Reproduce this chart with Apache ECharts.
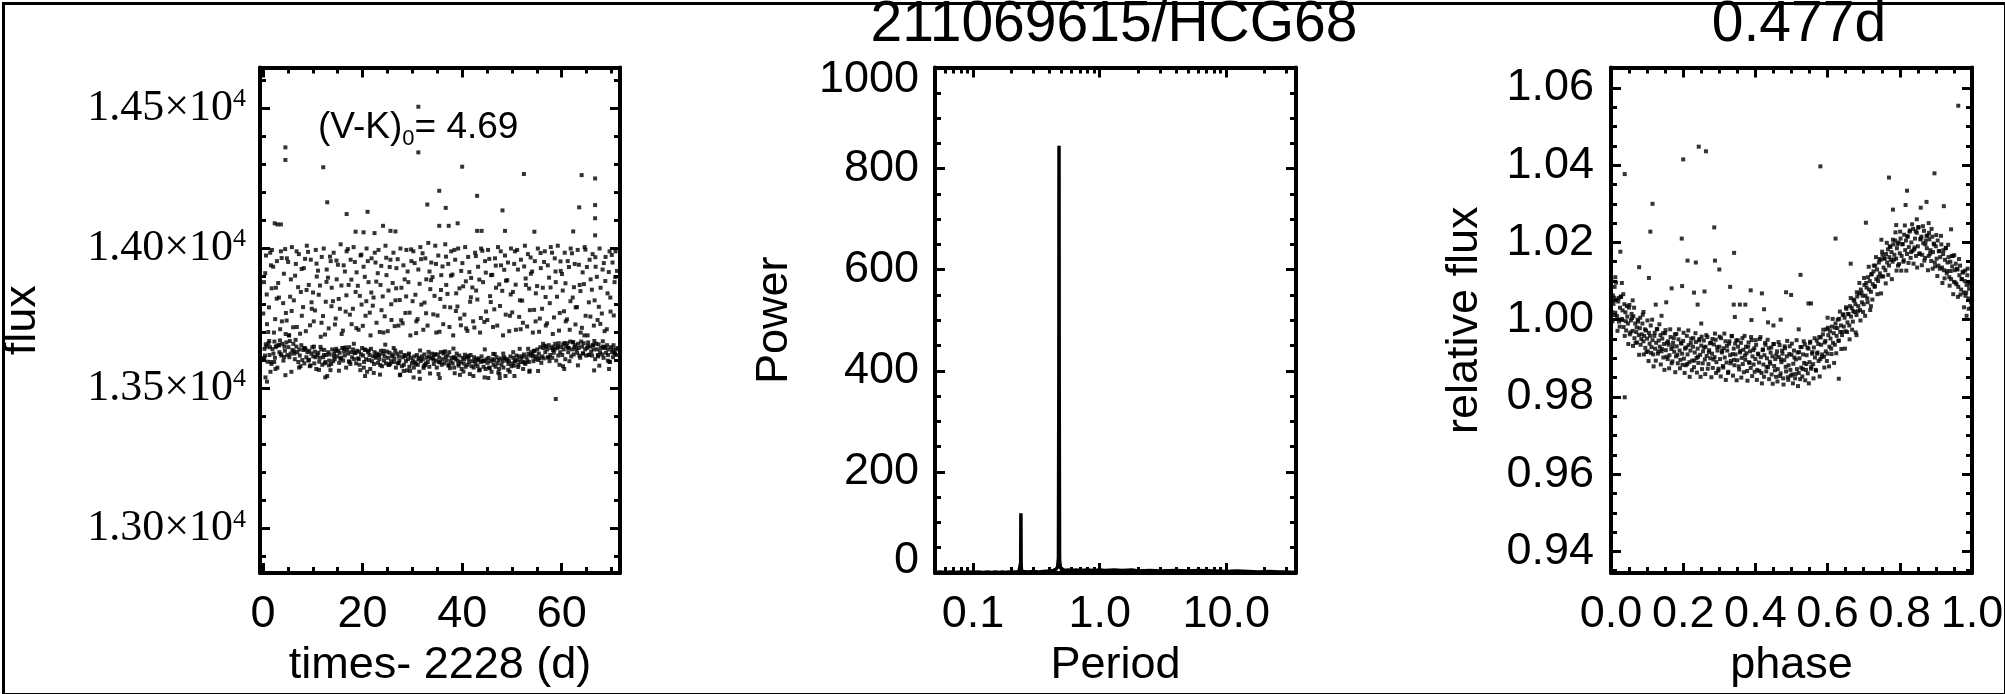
<!DOCTYPE html>
<html><head><meta charset="utf-8">
<script src="https://cdn.jsdelivr.net/npm/echarts@6/dist/echarts.min.js"></script>
<style>html,body{margin:0;padding:0;background:#fff}#c{width:2005px;height:694px}</style>
</head><body><div id="c"></div><script>
// ---------- DATA ----------
const titleMain = '211069615/HCG68';
const titlePeriod = '0.477d';
const colourIndex = {label: '(V-K)', sub: '0', value: '= 4.69'};

// light curve: [time - 2228 (d), flux]
const lcPoints = [
[0.1,13605],[0.2,13880],[0.3,13642],[0.4,13618],[0.6,13975],[0.7,13650],[0.8,13730],[0.9,13596],
[1.1,13662],[1.2,13790],[1.3,13620],[1.4,13648],[1.6,13940],[1.7,13588],[1.8,13995],[1.9,13641],
[2.1,13625],[2.2,13700],[2.3,13668],[2.4,13610],[2.6,13860],[2.7,13652],[2.8,13955],[2.9,13575],
[3.1,13655],[3.2,13825],[3.3,13630],[3.4,13672],[3.6,13990],[3.7,13618],[3.8,13740],[3.9,13660],
[4.1,13600],[4.2,13910],[4.3,13650],[4.4,13635],[4.6,13770],[4.7,13665],[4.8,13965],[4.9,13620],
[5.1,13648],[5.2,13690],[5.3,13612],[5.4,13670],[5.6,13890],[5.7,13560],[5.8,14005],[5.9,13638],
[6.1,13660],[6.2,13815],[6.3,13625],[6.4,13605],[6.6,13945],[6.7,13650],[6.8,13720],[6.9,13630],
[7.1,13595],[7.2,13980],[7.3,13640],[7.4,13618],[7.6,13845],[7.7,13655],[7.8,13760],[7.9,13602],
[8.1,13638],[8.2,13930],[8.3,13590],[8.4,13645],[8.6,13705],[8.7,13612],[8.8,14010],[8.9,13630],
[9.1,13600],[9.2,13870],[9.3,13635],[9.4,13580],[9.6,13960],[9.7,13625],[9.8,13785],[9.9,13648],
[10.1,13615],[10.2,13740],[10.3,13590],[10.4,13632],[10.6,13995],[10.7,13570],[10.8,13900],[10.9,13620],
[11.1,13628],[11.2,13835],[11.3,13596],[11.4,13610],[11.6,13685],[11.7,13640],[11.8,13970],[11.9,13585],
[12.1,13612],[12.2,14000],[12.3,13638],[12.4,13590],[12.6,13810],[12.7,13620],[12.8,13925],[12.9,13545],
[13.1,13630],[13.2,13715],[13.3,13600],[13.4,13622],[13.6,13955],[13.7,13588],[13.8,13860],[13.9,13640],
[14.1,13598],[14.2,13985],[14.3,13625],[14.4,13605],[14.6,13750],[14.7,13642],[14.8,13890],[14.9,13615],
[15.1,13635],[15.2,13820],[15.3,13592],[15.4,13628],[15.6,14015],[15.7,13610],[15.8,13695],[15.9,13645],
[16.1,13600],[16.2,13940],[16.3,13632],[16.4,13618],[16.6,13775],[16.7,13575],[16.8,13990],[16.9,13638],
[17.1,13625],[17.2,13870],[17.3,13648],[17.4,13596],[17.6,13960],[17.7,13630],[17.8,13730],[17.9,13612],
[18.1,13640],[18.2,14005],[18.3,13605],[18.4,13628],[18.6,13845],[18.7,13590],[18.8,13915],[18.9,13635],
[19.1,13608],[19.2,13710],[19.3,13632],[19.4,13585],[19.6,13975],[19.7,13622],[19.8,13800],[19.9,13645],
[20.1,13618],[20.2,13935],[20.3,13595],[20.4,13640],[20.6,13760],[20.7,13605],[20.8,14000],[20.9,13560],
[21.1,13630],[21.2,13880],[21.3,13602],[21.4,13620],[21.6,13690],[21.7,13642],[21.8,13965],[21.9,13598],
[22.1,13615],[22.2,13825],[22.3,13588],[22.4,13630],[22.6,13950],[22.7,13610],[22.8,13735],[22.9,13625],
[23.1,13592],[23.2,13995],[23.3,13620],[23.4,13605],[23.6,13870],[23.7,13635],[23.8,13780],[23.9,13580],
[24.1,13625],[24.2,13700],[24.3,13600],[24.4,13615],[24.6,14010],[24.7,13590],[24.8,13905],[24.9,13632],
[25.1,13610],[25.2,13850],[25.3,13585],[25.4,13628],[25.6,13960],[25.7,13598],[25.8,13745],[25.9,13615],
[26.1,13622],[26.2,13985],[26.3,13595],[26.4,13608],[26.6,13815],[26.7,13575],[26.8,13930],[26.9,13625],
[27.1,13590],[27.2,13725],[27.3,13615],[27.4,13600],[27.6,14000],[27.7,13630],[27.8,13860],[27.9,13580],
[28.1,13612],[28.2,13940],[28.3,13585],[28.4,13620],[28.6,13770],[28.7,13598],[28.8,13995],[28.9,13565],
[29.1,13605],[29.2,13880],[29.3,13625],[29.4,13578],[29.6,13690],[29.7,13610],[29.8,13955],[29.9,13590],
[30.1,13600],[30.2,13990],[30.3,13575],[30.4,13615],[30.6,13835],[30.7,13588],[30.8,13740],[30.9,13620],
[31.1,13585],[31.2,13925],[31.3,13610],[31.4,13560],[31.6,14005],[31.7,13598],[31.8,13800],[31.9,13615],
[32.1,13605],[32.2,13710],[32.3,13580],[32.4,13622],[32.6,13965],[32.7,13590],[32.8,13890],[32.9,13610],
[33.1,13595],[33.2,14020],[33.3,13615],[33.4,13578],[33.6,13855],[33.7,13608],[33.8,13950],[33.9,13625],
[34.1,13610],[34.2,13765],[34.3,13588],[34.4,13620],[34.6,14010],[34.7,13600],[34.8,13700],[34.9,13575],
[35.1,13622],[35.2,13975],[35.3,13595],[35.4,13610],[35.6,13820],[35.7,13630],[35.8,13905],[35.9,13585],
[36.1,13605],[36.2,13730],[36.3,13625],[36.4,13590],[36.6,14015],[36.7,13612],[36.8,13870],[36.9,13600],
[37.1,13618],[37.2,13945],[37.3,13585],[37.4,13630],[37.6,13790],[37.7,13598],[37.8,13990],[37.9,13610],
[38.1,13590],[38.2,13690],[38.3,13612],[38.4,13575],[38.6,13960],[38.7,13605],[38.8,13840],[38.9,13625],
[39.1,13600],[39.2,14000],[39.3,13582],[39.4,13618],[39.6,13750],[39.7,13595],[39.8,13920],[39.9,13570],
[40.1,13610],[40.2,13865],[40.3,13590],[40.4,13605],[40.6,14005],[40.7,13578],[40.8,13715],[40.9,13612],
[41.1,13585],[41.2,13970],[41.3,13608],[41.4,13595],[41.6,13810],[41.7,13620],[41.8,13895],[41.9,13580],
[42.1,13598],[42.2,13740],[42.3,13575],[42.4,13612],[42.6,13985],[42.7,13588],[42.8,13850],[42.9,13605],
[43.1,13580],[43.2,13935],[43.3,13602],[43.4,13565],[43.6,13700],[43.7,13595],[43.8,14000],[43.9,13615],
[44.1,13600],[44.2,13880],[44.3,13578],[44.4,13598],[44.6,13955],[44.7,13570],[44.8,13775],[44.9,13605],
[45.1,13592],[45.2,13995],[45.3,13610],[45.4,13575],[45.6,13830],[45.7,13598],[45.8,13905],[45.9,13560],
[46.1,13605],[46.2,13720],[46.3,13585],[46.4,13600],[46.6,13965],[46.7,13578],[46.8,13860],[46.9,13612],
[47.1,13590],[47.2,14005],[47.3,13602],[47.4,13570],[47.6,13795],[47.7,13608],[47.8,13940],[47.9,13585],
[48.1,13598],[48.2,13690],[48.3,13575],[48.4,13612],[48.6,13975],[48.7,13545],[48.8,13885],[48.9,13600],
[49.1,13605],[49.2,13950],[49.3,13588],[49.4,13598],[49.6,13760],[49.7,13615],[49.8,14000],[49.9,13580],
[50.1,13590],[50.2,13845],[50.3,13610],[50.4,13582],[50.6,13990],[50.7,13600],[50.8,13710],[50.9,13618],
[51.1,13602],[51.2,13925],[51.3,13585],[51.4,13615],[51.6,13815],[51.7,13595],[51.8,13960],[51.9,13608],
[52.1,13615],[52.2,13735],[52.3,13595],[52.4,13622],[52.6,14010],[52.7,13588],[52.8,13870],[52.9,13612],
[53.1,13600],[53.2,13980],[53.3,13625],[53.4,13595],[53.6,13780],[53.7,13618],[53.8,13910],[53.9,13630],
[54.1,13622],[54.2,13700],[54.3,13598],[54.4,13635],[54.6,13955],[54.7,13605],[54.8,13840],[54.9,13615],
[55.1,13640],[55.2,14000],[55.3,13602],[55.4,13625],[55.6,13750],[55.7,13648],[55.8,13930],[55.9,13592],
[56.1,13615],[56.2,13860],[56.3,13645],[56.4,13608],[56.6,13990],[56.7,13630],[56.8,13725],[56.9,13650],
[57.1,13640],[57.2,13940],[57.3,13612],[57.4,13655],[57.6,13805],[57.7,13620],[57.8,14005],[57.9,13645],
[58.1,13610],[58.2,13695],[58.3,13650],[58.4,13628],[58.6,13965],[58.7,13660],[58.8,13880],[58.9,13600],
[59.1,13645],[59.2,14010],[59.3,13618],[59.4,13662],[59.6,13770],[59.7,13630],[59.8,13920],[59.9,13648],
[60.1,13620],[60.2,13850],[60.3,13658],[60.4,13640],[60.6,13985],[60.7,13605],[60.8,13740],[60.9,13652],
[61.1,13662],[61.2,13955],[61.3,13630],[61.4,13645],[61.6,13710],[61.7,13668],[61.8,14000],[61.9,13615],
[62.1,13640],[62.2,13825],[62.3,13665],[62.4,13622],[62.6,13945],[62.7,13655],[62.8,13790],[62.9,13640],
[63.1,13628],[63.2,13995],[63.3,13660],[63.4,13645],[63.6,13870],[63.7,13610],[63.8,13700],[63.9,13668],
[64.1,13650],[64.2,13915],[64.3,13625],[64.4,13662],[64.6,14005],[64.7,13640],[64.8,13760],[64.9,13618],
[65.1,13645],[65.2,13690],[65.3,13665],[65.4,13620],[65.6,13960],[65.7,13650],[65.8,13890],[65.9,13632],
[66.1,13618],[66.2,13980],[66.3,13655],[66.4,13640],[66.6,13815],[66.7,13605],[66.8,13935],[66.9,13660],
[67.1,13640],[67.2,13745],[67.3,13615],[67.4,13658],[67.6,14000],[67.7,13630],[67.8,13860],[67.9,13645],
[68.1,13622],[68.2,13925],[68.3,13650],[68.4,13610],[68.6,13705],[68.7,13645],[68.8,13970],[68.9,13628],
[69.1,13655],[69.2,13840],[69.3,13620],[69.4,13640],[69.6,13990],[69.7,13595],[69.8,13775],[69.9,13648],
[70.1,13630],[70.2,13950],[70.3,13612],[70.4,13655],[70.6,13880],[70.7,13625],[70.8,13990],[70.9,13640],
[71.0,13620],[71.1,13920],[71.2,13645]
];
const lcPointsExtra = [
[0.05,13768],[0.25,13610],[0.45,13912],[0.55,13658],[0.75,13836],[1.05,13702],[1.25,13670],[1.45,13985],[1.55,13595],[1.75,13858],
[2.05,13935],[2.25,13595],[2.45,13748],[2.55,13648],[2.75,13821],[3.05,13877],[3.25,13655],[3.45,13712],[3.55,13623],[3.75,13966],
[4.05,13805],[4.25,13613],[4.45,13998],[4.55,13695],[4.75,13743],[5.05,13952],[5.25,13690],[5.45,13828],[5.55,13625],[5.75,13777],
[6.05,13719],[6.25,13633],[6.45,13903],[6.55,13674],[6.75,13990],[7.05,13862],[7.25,13575],[7.45,13696],[7.55,13580],[7.75,13927],
[8.05,13791],[8.25,13644],[8.45,13963],[8.55,13640],[8.75,13852],[9.05,13988],[9.25,13603],[9.45,13726],[9.55,13583],[9.75,13808],
[10.05,13843],[10.25,13650],[10.45,13779],[10.55,13612],[10.75,13946],[11.05,13921],[11.25,13567],[11.45,13868],[11.55,13649],[11.75,13735],
[12.05,13759],[12.25,13620],[12.45,13693],[12.55,13595],[12.75,13881],[13.05,13896],[13.25,13583],[13.45,13971],[13.55,13566],[13.75,13794],
[14.05,13812],[14.25,13615],[14.45,13729],[14.55,13635],[14.75,13957],[15.05,13942],[15.25,13564],[15.45,13785],[15.55,13606],[15.75,13868],
[16.05,13707],[16.25,13644],[16.45,13918],[16.55,13647],[16.75,13833],[17.05,13998],[17.25,13597],[17.45,13764],[17.55,13588],[17.75,13889],
[18.05,13785],[18.25,13660],[18.45,13952],[18.55,13627],[18.75,13716],[19.05,13867],[19.25,13605],[19.45,13831],[19.55,13566],[19.75,13978],
[20.05,13724],[20.25,13575],[20.45,13899],[20.55,13638],[20.75,13812],[21.05,13955],[21.25,13636],[21.45,13771],[21.55,13570],[21.75,13843],
[22.05,13796],[22.25,13556],[22.45,13985],[22.55,13616],[22.75,13882],[23.05,13912],[23.25,13618],[23.45,13702],[23.55,13584],[23.75,13938],
[24.05,13829],[24.25,13635],[24.45,13758],[24.55,13657],[24.75,13967],[25.05,13705],[25.25,13585],[25.45,13934],[25.55,13588],[25.75,13801],
[26.05,13877],[26.25,13645],[26.45,13723],[26.55,13636],[26.75,13858],[27.05,13962],[27.25,13592],[27.45,13816],[27.55,13550],[27.75,13744],
[28.05,13733],[28.25,13563],[28.45,13890],[28.55,13616],[28.75,13829],[29.05,13918],[29.25,13621],[29.45,13771],[29.55,13563],[29.75,13997],
[30.05,13812],[30.25,13540],[30.45,13948],[30.55,13594],[30.75,13698],[31.05,13748],[31.25,13604],[31.45,13874],[31.55,13636],[31.75,13962],
[32.05,13983],[32.25,13574],[32.45,13807],[32.55,13584],[32.75,13769],[33.05,13725],[33.25,13631],[33.45,13918],[33.55,13554],[33.75,13887],
[34.05,13898],[34.25,13603],[34.45,13831],[34.55,13623],[34.75,13945],[35.05,13761],[35.25,13552],[35.45,13703],[35.55,13594],[35.75,13852],
[36.05,13936],[36.25,13630],[36.45,13792],[36.55,13633],[36.75,13971],[37.05,13838],[37.25,13582],[37.45,13720],[37.55,13573],[37.75,13903],
[38.05,13907],[38.25,13643],[38.45,13995],[38.55,13610],[38.75,13777],[39.05,13793],[39.25,13588],[39.45,13858],[39.55,13549],[39.75,13726],
[40.05,13948],[40.25,13561],[40.45,13764],[40.55,13621],[40.75,13883],[41.05,13706],[41.25,13617],[41.45,13916],[41.55,13552],[41.75,13826],
[42.05,13861],[42.25,13545],[42.45,13718],[42.55,13598],[42.75,13973],[43.05,13818],[43.25,13608],[43.45,13889],[43.55,13568],[43.75,13752],
[44.05,13992],[44.25,13598],[44.45,13738],[44.55,13640],[44.75,13914],[45.05,13745],[45.25,13538],[45.45,13963],[45.55,13573],[45.75,13809],
[46.05,13906],[46.25,13624],[46.45,13783],[46.55,13623],[46.75,13939],[47.05,13725],[47.25,13557],[47.45,13872],[47.55,13538],[47.75,13990],
[48.05,13849],[48.25,13625],[48.45,13924],[48.55,13608],[48.75,13764],[49.05,13887],[49.25,13567],[49.45,13705],[49.55,13560],[49.75,13836],
[50.05,13772],[50.25,13630],[50.45,13945],[50.55,13597],[50.75,13871],[51.05,13995],[51.25,13577],[51.45,13756],[51.55,13642],[51.75,13712],
[52.05,13814],[52.25,13570],[52.45,13936],[52.55,13592],[52.75,13893],[53.05,13722],[53.25,13642],[53.45,13857],[53.55,13564],[53.75,13968],
[54.05,13918],[54.25,13615],[54.45,13781],[54.55,13635],[54.75,13740],[55.05,13866],[55.25,13563],[55.45,13703],[55.55,13609],[55.75,13984],
[56.05,13785],[56.25,13660],[56.45,13952],[56.55,13653],[56.75,13827],[57.05,13733],[57.25,13611],[57.45,13896],[57.55,13598],[57.75,13861],
[58.05,13985],[58.25,13638],[58.45,13754],[58.55,13640],[58.75,13918],[59.05,13828],[59.25,13650],[59.45,13707],[59.55,13585],[59.75,13954],
[60.05,13909],[60.25,13580],[60.45,13776],[60.55,13663],[60.75,13876],[61.05,13747],[61.25,13646],[61.45,13934],[61.55,13598],[61.75,13812],
[62.05,13983],[62.25,13666],[62.45,13862],[62.55,13648],[62.75,13729],[63.05,13791],[63.25,13583],[63.45,13942],[63.55,13618],[63.75,13848],
[64.05,13717],[64.25,13626],[64.45,13873],[64.55,13690],[64.75,13996],[65.05,13934],[65.25,13653],[65.45,13808],[65.55,13621],[65.75,13757],
[66.05,13853],[66.25,13655],[66.45,13725],[66.55,13670],[66.75,13969],[67.05,13899],[67.25,13620],[67.45,13792],[67.55,13582],[67.75,13731],
[68.05,13768],[68.25,13669],[68.45,13948],[68.55,13648],[68.75,13884],[69.05,13712],[69.25,13600],[69.45,13916],[69.55,13596],[69.75,13825],
[70.05,13977],[70.25,13640],[70.45,13761],[70.55,13628],[70.75,13898]
];
const lcOutliers = [
[31.2,14506],[31.2,14343],[4.5,14361],[4.5,14316],[12.1,14290],[40.0,14292],[52.4,14266],[64.0,14262],
[66.7,14250],[12.9,14165],[35.4,14206],[43.0,14188],[16.8,14123],[21.0,14131],[33.0,14157],[36.7,14145],
[48.1,14136],[63.5,14147],[66.7,14155],[66.7,14108],[2.35,14090],[2.9,14086],[3.6,14086],[24.1,14081],
[25.6,14063],[26.6,14061],[35.4,14081],[37.3,14081],[39.1,14090],[43.0,14063],[43.9,14063],[48.6,14063],
[62.3,14061],[18.6,14060],[20.2,14058],[22.4,14055],[54.5,14060],[66.7,14047],
[1.5,13560],[4.5,13548],[12.5,13540],[20.5,13545],[23.5,13550],[31.5,13535],[38.5,13555],[44.5,13540],
[47.5,13552],[50.5,13545],[53.5,13560],[58.8,13463],[60.5,13570],[66.5,13565],[69.5,13570],[2.5,13570],
[27.5,13548],[35.5,13538],[0.5,13540],[0.8,13525]
];

// periodogram: [period (d), power]
const periodogram = [
[0.05,1],[0.055,2],[0.06,1],[0.066,2],[0.072,1],[0.08,2],[0.088,1],[0.095,2],[0.1,1],[0.11,2],[0.12,1],
[0.13,2],[0.14,1],[0.15,2],[0.16,1],[0.17,2],[0.18,1],[0.19,2],[0.2,1],[0.21,2],[0.22,2],[0.23,3],
[0.236,4],[0.2375,20],[0.2385,118],[0.2395,18],[0.241,4],[0.25,3],[0.27,2],[0.3,3],[0.33,2],[0.36,3],
[0.4,4],[0.43,5],[0.45,7],[0.465,12],[0.472,30],[0.4755,400],[0.477,845],[0.4785,380],[0.482,25],
[0.49,10],[0.5,7],[0.53,5],[0.56,6],[0.6,5],[0.65,6],[0.7,5],[0.8,6],[0.9,5],[1.0,6],[1.1,5],[1.3,6],
[1.5,5],[1.8,6],[2.0,4],[2.5,5],[3,4],[4,5],[5,4],[6,5],[8,4],[10,3],[12,4],[15,3],[18,2],[22,3],
[26,2],[30,2],[35,1]
];

// phase-folded light curve: [phase, relative flux]
const phasePoints = [
[.000,1.0076],[.002,1.0020],[.005,1.0063],[.007,1.0041],[.010,1.0085],[.012,1.0018],[.015,1.0052],[.017,1.0009],
[.020,1.0047],[.022,.9995],[.025,1.0031],[.027,1.0060],[.030,1.0002],[.032,1.0024],[.035,.9981],[.037,1.0040],
[.040,1.0019],[.042,.9972],[.045,1.0008],[.047,.9990],[.050,1.0031],[.052,.9962],[.055,.9998],[.057,1.0015],
[.060,.9971],[.062,1.0009],[.065,.9952],[.067,.9990],[.070,.9968],[.072,.9941],[.075,.9995],[.077,.9960],
[.080,.9978],[.082,.9935],[.085,.9962],[.087,.9990],[.090,.9944],[.092,.9958],[.095,.9927],[.097,.9972],
[.100,.9951],[.102,.9918],[.105,.9966],[.107,.9938],[.110,.9985],[.112,.9929],[.115,.9947],[.117,.9910],
[.120,.9958],[.122,.9925],[.125,.9940],[.127,.9975],[.130,.9912],[.132,.9946],[.135,.9930],[.137,.9960],
[.140,.9918],[.142,.9951],[.145,.9902],[.147,.9937],[.150,.9965],[.152,.9921],[.155,.9940],[.157,.9898],
[.160,.9935],[.162,.9908],[.165,.9955],[.167,.9924],[.170,.9892],[.172,.9940],[.175,.9917],[.177,.9962],
[.180,.9905],[.182,.9931],[.185,.9887],[.187,.9949],[.190,.9920],[.192,.9896],[.195,.9938],[.197,.9912],
[.200,.9945],[.202,.9899],[.205,.9925],[.207,.9882],[.210,.9958],[.212,.9910],[.215,.9934],[.217,.9890],
[.220,.9920],[.222,.9951],[.225,.9894],[.227,.9930],[.230,.9877],[.232,.9915],[.235,.9942],[.237,.9901],
[.240,.9925],[.242,.9888],[.245,.9950],[.247,.9909],[.250,.9933],[.252,.9872],[.255,.9918],[.257,.9946],
[.260,.9897],[.262,.9930],[.265,.9906],[.267,.9955],[.270,.9885],[.272,.9921],[.275,.9900],[.277,.9940],
[.280,.9912],[.282,.9875],[.285,.9936],[.287,.9903],[.290,.9948],[.292,.9890],[.295,.9920],[.297,.9868],
[.300,.9930],[.302,.9898],[.305,.9952],[.307,.9915],[.310,.9880],[.312,.9926],[.315,.9902],[.317,.9944],
[.320,.9889],[.322,.9920],[.325,.9865],[.327,.9938],[.330,.9908],[.332,.9893],[.335,.9957],[.337,.9911],
[.340,.9925],[.342,.9882],[.345,.9910],[.347,.9946],[.350,.9895],[.352,.9930],[.355,.9871],[.357,.9915],
[.360,.9940],[.362,.9901],[.365,.9885],[.367,.9922],[.370,.9958],[.372,.9896],[.375,.9913],[.377,.9867],
[.380,.9930],[.382,.9890],[.385,.9918],[.387,.9875],[.390,.9947],[.392,.9905],[.395,.9884],[.397,.9926],
[.400,.9898],[.402,.9935],[.405,.9870],[.407,.9912],[.410,.9889],[.412,.9950],[.415,.9903],[.417,.9862],
[.420,.9921],[.422,.9884],[.425,.9908],[.427,.9940],[.430,.9866],[.432,.9900],[.435,.9877],[.437,.9926],
[.440,.9891],[.442,.9915],[.445,.9858],[.447,.9905],[.450,.9937],[.452,.9880],[.455,.9898],[.457,.9852],
[.460,.9918],[.462,.9872],[.465,.9903],[.467,.9934],[.470,.9861],[.472,.9890],[.475,.9912],[.477,.9848],
[.480,.9895],[.482,.9926],[.485,.9866],[.487,.9905],[.490,.9851],[.492,.9882],[.495,.9931],[.497,.9870],
[.500,.9909],[.502,.9858],[.505,.9886],[.507,.9920],[.510,.9848],[.512,.9897],[.515,.9872],[.517,.9915],
[.520,.9862],[.522,.9900],[.525,.9929],[.527,.9876],[.530,.9853],[.532,.9910],[.535,.9888],[.537,.9936],
[.540,.9870],[.542,.9908],[.545,.9861],[.547,.9925],[.550,.9890],[.552,.9943],[.555,.9878],[.557,.9912],
[.560,.9885],[.562,.9928],[.565,.9902],[.567,.9870],[.570,.9946],[.572,.9915],[.575,.9893],[.577,.9955],
[.580,.9898],[.582,.9935],[.585,.9910],[.587,.9962],[.590,.9904],[.592,.9941],[.595,.9918],[.597,.9975],
[.600,.9912],[.602,.9960],[.605,.9930],[.607,.9970],[.610,.9925],[.612,.9982],[.615,.9940],[.617,.9965],
[.620,.9935],[.622,.9990],[.625,.9958],[.627,.9978],[.630,.9945],[.632,1.0002],[.635,.9968],[.637,.9985],
[.640,.9960],[.642,1.0012],[.645,.9982],[.647,1.0005],[.650,.9970],[.652,1.0028],[.655,.9993],[.657,1.0015],
[.660,.9985],[.662,1.0035],[.665,1.0008],[.667,1.0030],[.670,.9995],[.672,1.0052],[.675,1.0020],[.677,1.0040],
[.680,1.0012],[.682,1.0060],[.685,1.0035],[.687,1.0068],[.690,1.0025],[.692,1.0078],[.695,1.0045],[.697,1.0062],
[.700,1.0040],[.702,1.0090],[.705,1.0062],[.707,1.0095],[.710,1.0055],[.712,1.0110],[.715,1.0078],[.717,1.0100],
[.720,1.0072],[.722,1.0118],[.725,1.0092],[.727,1.0125],[.730,1.0085],[.732,1.0140],[.735,1.0105],[.737,1.0130],
[.740,1.0100],[.742,1.0148],[.745,1.0120],[.747,1.0155],[.750,1.0112],[.752,1.0168],[.755,1.0135],[.757,1.0158],
[.760,1.0128],[.762,1.0170],[.765,1.0148],[.767,1.0182],[.770,1.0140],[.772,1.0190],[.775,1.0155],[.777,1.0175],
[.780,1.0150],[.782,1.0195],[.785,1.0168],[.787,1.0205],[.790,1.0158],[.792,1.0185],[.795,1.0140],[.797,1.0200],
[.800,1.0172],[.802,1.0210],[.805,1.0165],[.807,1.0195],[.810,1.0150],[.812,1.0220],[.815,1.0180],[.817,1.0205],
[.820,1.0170],[.822,1.0215],[.825,1.0188],[.827,1.0228],[.830,1.0160],[.832,1.0200],[.835,1.0178],[.837,1.0235],
[.840,1.0182],[.842,1.0210],[.845,1.0165],[.847,1.0225],[.850,1.0190],[.852,1.0240],[.855,1.0172],[.857,1.0208],
[.860,1.0215],[.862,1.0168],[.865,1.0198],[.867,1.0230],[.870,1.0160],[.872,1.0205],[.875,1.0185],[.877,1.0218],
[.880,1.0165],[.882,1.0208],[.885,1.0180],[.887,1.0152],[.890,1.0215],[.892,1.0175],[.895,1.0195],[.897,1.0148],
[.900,1.0190],[.902,1.0158],[.905,1.0205],[.907,1.0140],[.910,1.0178],[.912,1.0162],[.915,1.0195],[.917,1.0135],
[.920,1.0170],[.922,1.0128],[.925,1.0155],[.927,1.0185],[.930,1.0120],[.932,1.0148],[.935,1.0162],[.937,1.0110],
[.940,1.0150],[.942,1.0105],[.945,1.0138],[.947,1.0165],[.950,1.0098],[.952,1.0128],[.955,1.0145],[.957,1.0092],
[.960,1.0130],[.962,1.0085],[.965,1.0115],[.967,1.0140],[.970,1.0078],[.972,1.0105],[.975,1.0122],[.977,1.0070],
[.980,1.0100],[.982,1.0062],[.985,1.0090],[.987,1.0115],[.990,1.0055],[.992,1.0080],[.995,1.0098],[.997,1.0045],[1.000,1.0070]
];
const phasePointsExtra = [
[.001,1.0103],[.004,.9996],[.008,1.0057],[.011,1.0012],[.014,1.0096],[.018,.9971],[.021,1.0056],[.024,.9982],[.028,1.0059],[.031,.9999],
[.034,1.0066],[.038,.9958],[.041,.9996],[.044,1.0035],[.048,.9937],[.051,1.0038],[.054,.9967],[.058,1.0004],[.061,.9932],[.064,1.0031],
[.068,.9940],[.071,.9980],[.074,1.0000],[.078,.9909],[.081,1.0005],[.084,.9950],[.088,1.0013],[.091,.9910],[.094,.9975],[.098,.9916],
[.101,.9998],[.104,.9893],[.108,.9958],[.111,.9914],[.114,1.0000],[.118,.9879],[.121,.9966],[.124,.9894],[.128,.9976],[.131,.9918],
[.134,.9988],[.138,.9884],[.141,.9924],[.144,.9965],[.148,.9870],[.151,.9973],[.154,.9904],[.158,.9944],[.161,.9874],[.164,.9975],
[.168,.9887],[.171,.9930],[.174,.9952],[.178,.9864],[.181,.9963],[.184,.9909],[.188,.9975],[.191,.9874],[.194,.9940],[.198,.9883],
[.201,.9966],[.204,.9862],[.208,.9928],[.211,.9885],[.214,.9972],[.218,.9852],[.221,.9940],[.224,.9869],[.228,.9952],[.231,.9894],
[.234,.9965],[.238,.9863],[.241,.9904],[.244,.9946],[.248,.9852],[.251,.9956],[.254,.9887],[.258,.9928],[.261,.9859],[.264,.9960],
[.268,.9873],[.271,.9916],[.274,.9939],[.278,.9851],[.281,.9950],[.284,.9897],[.288,.9964],[.291,.9862],[.294,.9929],[.298,.9873],
[.301,.9956],[.304,.9853],[.308,.9919],[.311,.9876],[.314,.9964],[.318,.9844],[.321,.9932],[.324,.9862],[.328,.9944],[.331,.9887],
[.334,.9958],[.338,.9855],[.341,.9896],[.344,.9938],[.348,.9843],[.351,.9947],[.354,.9879],[.358,.9919],[.361,.9850],[.364,.9952],
[.368,.9864],[.371,.9907],[.374,.9930],[.378,.9842],[.381,.9941],[.384,.9888],[.388,.9955],[.391,.9854],[.394,.9921],[.398,.9865],
[.401,.9947],[.404,.9844],[.408,.9910],[.411,.9867],[.414,.9955],[.418,.9835],[.421,.9923],[.424,.9852],[.428,.9935],[.431,.9878],
[.434,.9948],[.438,.9846],[.441,.9886],[.444,.9928],[.448,.9834],[.451,.9937],[.454,.9869],[.458,.9909],[.461,.9840],[.464,.9942],
[.468,.9854],[.471,.9897],[.474,.9920],[.478,.9832],[.481,.9931],[.484,.9878],[.488,.9945],[.491,.9844],[.494,.9911],[.498,.9855],
[.501,.9938],[.504,.9835],[.508,.9902],[.511,.9859],[.514,.9947],[.518,.9828],[.521,.9916],[.524,.9846],[.528,.9929],[.531,.9872],
[.534,.9944],[.538,.9843],[.541,.9885],[.544,.9928],[.548,.9835],[.551,.9940],[.554,.9873],[.558,.9916],[.561,.9848],[.564,.9952],
[.568,.9868],[.571,.9912],[.574,.9937],[.578,.9853],[.581,.9954],[.584,.9904],[.588,.9974],[.591,.9876],[.594,.9945],[.598,.9893],
[.601,.9979],[.604,.9879],[.608,.9951],[.611,.9911],[.614,1.0002],[.618,.9888],[.621,.9979],[.624,.9913],[.628,1.0000],[.631,.9946],
[.634,1.0021],[.638,.9924],[.641,.9968],[.644,1.0014],[.648,.9925],[.651,1.0032],[.654,.9968],[.658,1.0014],[.661,.9949],[.664,1.0056],
[.668,.9974],[.671,1.0022],[.674,1.0049],[.678,.9967],[.681,1.0071],[.684,1.0022],[.688,1.0095],[.691,.9998],[.694,1.0070],[.698,1.0020],
[.701,1.0108],[.704,1.0010],[.708,1.0083],[.711,1.0045],[.714,1.0137],[.718,1.0025],[.721,1.0117],[.724,1.0052],[.728,1.0140],[.731,1.0087],
[.734,1.0162],[.738,1.0066],[.741,1.0111],[.744,1.0157],[.748,1.0068],[.751,1.0176],[.754,1.0112],[.758,1.0159],[.761,1.0094],[.764,1.0199],
[.768,1.0116],[.771,1.0162],[.774,1.0188],[.778,1.0105],[.781,1.0207],[.784,1.0156],[.788,1.0226],[.791,1.0127],[.794,1.0196],[.798,1.0144],
[.801,1.0228],[.804,1.0127],[.808,1.0196],[.811,1.0154],[.814,1.0244],[.818,1.0127],[.821,1.0216],[.824,1.0147],[.828,1.0231],[.831,1.0175],
[.834,1.0247],[.838,1.0145],[.841,1.0187],[.844,1.0229],[.848,1.0135],[.851,1.0238],[.854,1.0170],[.858,1.0210],[.861,1.0141],[.864,1.0242],
[.868,1.0153],[.871,1.0195],[.874,1.0217],[.878,1.0128],[.881,1.0225],[.884,1.0171],[.888,1.0235],[.891,1.0132],[.894,1.0197],[.898,1.0138],
[.901,1.0219],[.904,1.0113],[.908,1.0177],[.911,1.0132],[.914,1.0217],[.918,1.0095],[.921,1.0180],[.924,1.0107],[.928,1.0186],[.931,1.0126],
[.934,1.0194],[.938,1.0088],[.941,1.0126],[.944,1.0165],[.948,1.0066],[.951,1.0167],[.954,1.0096],[.958,1.0132],[.961,1.0059],[.964,1.0157],
[.968,1.0065],[.971,1.0105],[.974,1.0124],[.978,1.0032],[.981,1.0127],[.984,1.0070],[.988,1.0132],[.991,1.0028],[.994,1.0091],[.998,1.0030]
];
const phaseOutliers = [
[.038,1.0377],[.115,1.0300],[.109,1.0228],[.078,1.0136],[.105,1.0108],[.038,.9799],[.026,1.0176],
[.200,1.0415],[.243,1.0448],[.263,1.0436],[.196,1.0210],[.212,1.0153],[.235,1.0148],[.286,1.0239],
[.288,1.0153],[.300,1.0130],[.341,1.0173],[.168,1.0081],[.197,1.0087],[.230,1.0070],[.259,1.0073],
[.240,1.0039],[.330,1.0085],[.387,1.0076],[.418,1.0068],[.340,1.0039],[.357,1.0039],[.372,1.0039],
[.424,1.0027],[.485,1.0071],[.499,1.0064],[.525,1.0116],[.580,1.0397],[.622,1.0210],[.547,1.0042],
[.554,1.0042],[.631,.9847],[.706,1.0251],[.770,1.0368],[.781,1.0285],[.820,1.0334],[.816,1.0297],
[.874,1.0305],[.896,1.0379],[.922,1.0294],[.962,1.0554],[.942,1.0234],[.858,1.0290],[.847,1.0260],
[.153,1.0045],[.124,1.0039],[.389,.9999],[.435,.9993],[.343,1.0007],[.664,1.0145],[.749,1.0207],
[.012,1.0110],[.030,1.0095],[.060,1.0050],[.090,1.0020],[.140,1.0010],[.250,.9990],[.450,.9985],
[.470,1.0000],[.520,.9975],[.600,1.0005],[.680,.9960],[.720,1.0035],[.790,1.0245],[.880,1.0250],[.985,1.0010]
];

// axes ranges and ticks
const lcX = {min: -0.6, max: 71.7, major: [0, 20, 40, 60], minor: [5,10,15,25,30,35,45,50,55,65,70], labels: ['0','20','40','60']};
const lcY = {min: 12842, max: 14646, major: [13000, 13500, 14000, 14500],
  minor: [12900,13100,13200,13300,13400,13600,13700,13800,13900,14100,14200,14300,14400,14600],
  mantissa: ['1.30','1.35','1.40','1.45'], exponent: '4'};
const pgX = {min: 0.05, max: 35.5, major: [0.1, 1, 10], minor: [0.06,0.07,0.08,0.09,0.2,0.3,0.4,0.5,0.6,0.7,0.8,0.9,2,3,4,5,6,7,8,9,20,30], labels: ['0.1','1.0','10.0']};
const pgY = {min: 0, max: 1000, major: [0,200,400,600,800,1000], minor: [50,100,150,250,300,350,450,500,550,650,700,750,850,900,950], labels: ['0','200','400','600','800','1000']};
const phX = {min: 0, max: 1, major: [0,0.2,0.4,0.6,0.8,1.0], minor: [0.05,0.1,0.15,0.25,0.3,0.35,0.45,0.5,0.55,0.65,0.7,0.75,0.85,0.9,0.95], labels: ['0.0','0.2','0.4','0.6','0.8','1.0']};
const phY = {min: 0.9344, max: 1.0653, major: [0.94,0.96,0.98,1.00,1.02,1.04,1.06],
  minor: [0.935,0.945,0.95,0.955,0.965,0.97,0.975,0.985,0.99,0.995,1.005,1.01,1.015,1.025,1.03,1.035,1.045,1.05,1.055,1.065],
  labels: ['0.94','0.96','0.98','1.00','1.02','1.04','1.06']};
const axisNames = {lcX: 'times- 2228 (d)', lcY: 'flux', pgX: 'Period', pgY: 'Power', phX: 'phase', phY: 'relative flux'};

// ---------- CHART ----------
const SANS = 'Liberation Sans, Arial, Helvetica, sans-serif';
const SERIF = 'Liberation Serif, Times New Roman, serif';
function pick(arr, labels, v) {
  for (let i = 0; i < arr.length; i++) {
    if (Math.abs(arr[i] - v) <= 1e-6 * Math.max(1e-3, Math.abs(arr[i]))) return labels[i];
  }
  return '';
}
const xAxes = [], yAxes = [];
function addPair(list, g, sideMain, sideOther, spec, type, labelOpt, nameOpt) {
  const base = {type: type, gridIndex: g, min: spec.min, max: spec.max, splitLine: {show: false}, minorTick: {show: false}, axisPointer: {show: false}};
  if (type === 'log') base.logBase = 10;
  const mainIdx = list.length;
  const tickMajor = {show: true, inside: true, length: 10, customValues: spec.major, lineStyle: {color: '#000', width: 3}};
  const tickMinor = {show: true, inside: true, length: 6, customValues: spec.minor, lineStyle: {color: '#000', width: 3}};
  const line = {show: true, onZero: false, lineStyle: {color: '#000', width: 4}};
  list.push(Object.assign({}, base, nameOpt || {}, {position: sideMain, axisLine: line, axisTick: tickMajor, axisLabel: labelOpt}));
  list.push(Object.assign({}, base, {position: sideMain, axisLine: {show: false, onZero: false}, axisTick: tickMinor, axisLabel: {show: false}}));
  list.push(Object.assign({}, base, {position: sideOther, axisLine: line, axisTick: tickMajor, axisLabel: {show: false}}));
  list.push(Object.assign({}, base, {position: sideOther, axisLine: {show: false, onZero: false}, axisTick: tickMinor, axisLabel: {show: false}}));
  return mainIdx;
}
function sansLabel(spec, margin, extra) {
  return Object.assign({show: true, customValues: spec.major, margin: margin, color: '#000', fontFamily: SANS, fontSize: 45,
    formatter: v => pick(spec.major, spec.labels, v)}, extra || {});
}
function nameOpt(text, gap, rotate) {
  const o = {name: text, nameLocation: 'middle', nameGap: gap, nameTextStyle: {color: '#000', fontFamily: SANS, fontSize: 45}};
  if (rotate) o.nameRotate = rotate;
  return o;
}

const gx0 = addPair(xAxes, 0, 'bottom', 'top', lcX, 'value', sansLabel(lcX, 19), nameOpt(axisNames.lcX, 70));
const gy0 = addPair(yAxes, 0, 'left', 'right', lcY, 'value', {
  show: true, customValues: lcY.major, margin: 14, color: '#000',
  formatter: v => '{m|' + pick(lcY.major, lcY.mantissa, v) + '×10}{s|' + lcY.exponent + '}',
  rich: {m: {fontFamily: SERIF, fontSize: 44, color: '#000'}, s: {fontFamily: SERIF, fontSize: 26, color: '#000', verticalAlign: 'top'}}
}, nameOpt(axisNames.lcY, 215, 90));
const gx1 = addPair(xAxes, 1, 'bottom', 'top', pgX, 'log', sansLabel(pgX, 19), nameOpt(axisNames.pgX, 70));
const gy1 = addPair(yAxes, 1, 'left', 'right', pgY, 'value', sansLabel(pgY, 16, {
  formatter: v => {
    const t = pick(pgY.major, pgY.labels, v);
    if (v === pgY.min) return '{lo|' + t + '}';
    if (v === pgY.max) return '{hi|' + t + '}';
    return t;
  },
  rich: {lo: {fontFamily: SANS, fontSize: 45, color: '#000', padding: [0, 0, 25, 0]},
         hi: {fontFamily: SANS, fontSize: 45, color: '#000', padding: [24, 0, 0, 0]}}
}), nameOpt(axisNames.pgY, 138, 90));
const gx2 = addPair(xAxes, 2, 'bottom', 'top', phX, 'value', sansLabel(phX, 19), nameOpt(axisNames.phX, 70));
const gy2 = addPair(yAxes, 2, 'left', 'right', phY, 'value', sansLabel(phY, 17), nameOpt(axisNames.phY, 124, 90));

const chart = echarts.init(document.getElementById('c'), null, {renderer: 'canvas'});
const dot = {symbol: 'rect', symbolSize: 4, itemStyle: {color: '#000'}, silent: true, large: false};
chart.setOption({
  animation: false,
  backgroundColor: '#fff',
  grid: [
    {left: 260, top: 67.5, width: 360, height: 505.5, outerBoundsMode: 'none', containLabel: false},
    {left: 935, top: 67.5, width: 361, height: 505.5, outerBoundsMode: 'none', containLabel: false},
    {left: 1611, top: 67.5, width: 361, height: 505.5, outerBoundsMode: 'none', containLabel: false}
  ],
  title: [
    {text: titleMain, left: 1114, top: -3, textAlign: 'center', padding: 0,
     textStyle: {fontFamily: SANS, fontSize: 57, fontWeight: 'normal', color: '#000'}},
    {text: titlePeriod, left: 1799, top: -3, textAlign: 'center', padding: 0,
     textStyle: {fontFamily: SANS, fontSize: 57, fontWeight: 'normal', color: '#000'}}
  ],
  xAxis: xAxes,
  yAxis: yAxes,
  graphic: [
    {type: 'rect', left: 1, top: 1, shape: {x: 0, y: 0, width: 2002, height: 691}, silent: true,
     style: {fill: 'none', stroke: '#000', lineWidth: 3}},
    {type: 'text', left: 318, top: 109, silent: true,
     style: {text: '{a|' + colourIndex.label + '}{b|' + colourIndex.sub + '}{a|' + colourIndex.value + '}',
       rich: {a: {fontFamily: SANS, fontSize: 37, fill: '#000', color: '#000'},
              b: {fontFamily: SANS, fontSize: 22, fill: '#000', color: '#000', verticalAlign: 'bottom', padding: [22, 0, 0, 0]}}}}
  ],
  series: [
    Object.assign({type: 'scatter', xAxisIndex: gx0, yAxisIndex: gy0, data: lcPoints.concat(lcPointsExtra, lcOutliers)}, dot),
    {type: 'line', xAxisIndex: gx1, yAxisIndex: gy1, data: periodogram, showSymbol: false, symbol: 'none',
     lineStyle: {color: '#000', width: 3.5}, silent: true},
    Object.assign({type: 'scatter', xAxisIndex: gx2, yAxisIndex: gy2, data: phasePoints.concat(phasePointsExtra, phaseOutliers)}, dot)
  ]
});
</script></body></html>
